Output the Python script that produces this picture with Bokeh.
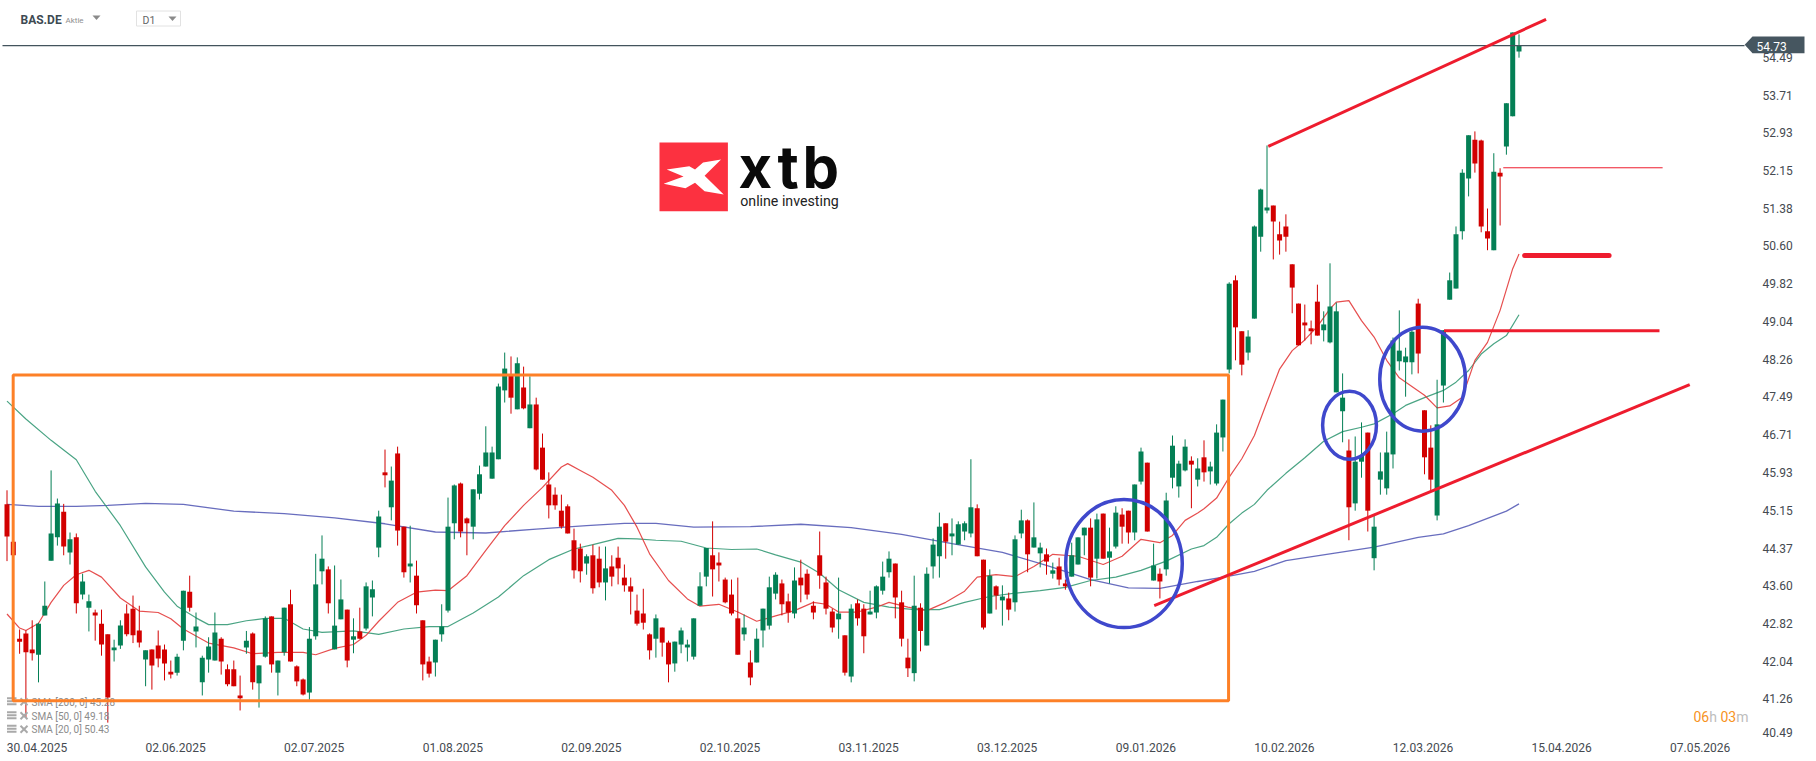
from bokeh.plotting import figure
from bokeh.models import Range1d, FixedTicker
from bokeh.core.properties import value
from bokeh.embed import file_html
from bokeh.resources import INLINE

W, H = 1816, 761
BAR0, BAR = 6.5, 6.3              # pixel of bar 0, pixels per bar
REF_P, REF_Y, PPU = 54.49, 56.7, 48.5   # price scale calibration

def sx(px): return (px - BAR0) / BAR
def sy(py): return REF_P - (py - REF_Y) / PPU

highs = [
45.56,44.50,42.69,42.67,42.88,42.83,43.68,45.97,45.39,45.28,
44.69,44.67,43.84,43.41,43.10,43.10,42.59,42.48,42.88,43.21,
43.39,43.18,42.26,42.28,42.67,42.38,42.05,42.19,43.49,43.80,
43.04,42.15,42.53,43.04,42.53,41.97,42.05,41.74,42.66,42.63,
41.95,42.96,42.96,42.05,43.14,43.51,41.95,41.68,42.74,44.25,
44.63,43.99,44.01,43.72,43.10,42.92,43.14,43.66,43.70,45.14,
46.40,46.05,46.46,44.81,44.83,44.11,42.88,42.13,42.48,43.21,
45.41,45.68,45.72,45.00,45.58,46.07,46.88,46.46,47.76,48.40,
48.32,48.30,48.11,47.91,47.47,46.73,45.93,45.62,45.47,45.27,
44.77,44.46,44.24,44.44,44.40,44.40,44.22,44.40,44.03,43.76,
43.41,43.53,42.61,43.00,42.73,42.46,42.44,42.73,42.48,42.92,
43.87,44.37,44.92,44.28,43.76,43.72,43.76,43.00,42.26,42.71,
43.12,43.78,43.87,43.72,43.43,43.97,44.13,43.93,43.27,44.71,
43.78,43.12,43.76,42.57,43.21,43.31,43.21,43.49,43.60,44.09,
44.30,44.05,43.49,42.50,43.80,43.23,43.97,44.57,45.10,44.88,
44.98,44.92,44.92,46.20,45.27,44.13,43.93,43.60,43.60,43.45,
44.63,45.16,44.96,45.31,44.48,44.36,44.07,44.17,43.72,44.48,
44.59,44.79,44.98,45.08,45.08,44.79,45.23,45.19,45.14,45.68,
46.44,46.13,44.46,43.95,45.51,46.69,46.17,46.61,46.26,46.22,
46.59,46.15,46.92,47.43,49.85,49.99,48.84,48.86,51.02,51.78,
52.67,51.43,51.10,51.25,50.22,49.41,49.39,49.06,49.80,49.25,
50.24,49.43,47.97,46.61,46.67,46.96,46.75,45.04,46.34,46.77,
48.71,49.27,48.50,48.90,49.51,47.21,46.90,47.84,48.86,50.05,
51.00,52.18,52.88,52.96,52.79,51.37,52.51,52.20,53.54,55.00,54.96]
opens = [
45.27,44.50,42.50,42.61,42.28,42.17,42.98,44.11,44.59,45.12,
44.28,44.59,43.41,43.14,43.04,42.81,42.59,42.26,42.36,43.02,
43.12,42.67,42.07,42.28,42.36,42.28,41.82,41.80,42.46,43.47,
42.65,41.60,42.07,42.05,42.50,41.87,41.87,41.33,42.32,42.61,
41.58,42.13,42.96,41.80,42.22,43.21,41.93,41.66,41.39,42.55,
43.89,43.93,42.28,42.90,43.10,42.48,42.65,42.71,43.35,44.38,
45.93,45.21,46.32,44.81,43.99,43.80,42.88,42.03,42.01,42.59,
43.08,44.88,45.70,44.98,44.81,45.49,46.05,45.80,46.20,47.62,
47.95,47.23,47.68,46.84,47.33,46.44,45.68,45.47,45.14,45.23,
44.53,44.36,44.05,44.22,44.15,43.66,43.99,44.17,43.76,43.58,
43.08,43.02,42.59,42.50,42.73,42.42,41.99,42.38,42.32,42.13,
43.18,43.78,44.22,44.07,43.72,43.41,42.92,42.59,42.01,42.01,
42.67,42.77,43.43,43.64,43.27,43.02,43.76,43.84,43.18,44.22,
43.66,43.06,42.90,42.57,41.72,43.23,43.12,43.00,43.04,43.49,
43.87,44.05,43.25,42.11,41.79,43.14,42.36,43.99,44.20,44.88,
44.61,44.44,44.71,44.67,45.19,44.13,43.02,43.58,43.29,43.33,
43.25,44.67,44.94,44.38,44.26,44.24,43.84,43.99,43.64,43.78,
44.03,44.63,44.79,44.15,45.08,44.17,44.40,45.06,45.14,44.69,
45.74,46.13,43.70,43.84,43.93,45.82,45.64,45.97,46.17,45.78,
46.24,45.95,45.70,46.65,48.05,49.89,48.84,48.40,49.10,50.79,
51.33,51.43,50.84,51.00,50.22,49.41,49.02,48.90,49.45,48.86,
48.61,47.58,47.19,46.38,45.29,46.15,46.75,44.16,45.78,45.60,
46.30,48.22,48.20,48.20,49.41,47.21,46.44,45.04,47.72,49.49,
49.72,50.90,51.99,52.79,52.77,50.90,50.51,52.11,52.65,53.27,54.61]
closes = [
44.61,44.22,42.44,42.22,42.20,42.81,43.18,44.67,45.29,44.40,
44.55,43.23,43.68,43.27,42.98,42.38,41.29,42.32,42.77,42.59,
42.57,42.42,42.26,41.95,42.09,41.99,41.76,42.13,43.49,43.14,
42.75,42.11,42.34,42.63,42.03,41.56,41.52,41.27,42.46,41.60,
41.95,42.92,41.97,42.05,43.14,42.03,41.62,41.35,42.50,43.62,
44.15,43.23,42.77,43.31,42.05,42.55,42.50,43.58,43.52,45.02,
45.87,45.76,44.73,43.87,44.05,43.19,41.97,41.78,42.48,42.75,
44.81,45.66,44.71,44.88,45.58,45.89,46.34,46.34,47.70,48.07,
47.47,48.18,47.25,47.33,45.99,45.78,45.25,45.25,44.81,44.67,
43.91,43.89,44.20,43.54,43.66,43.95,43.78,43.95,43.60,43.47,
42.81,42.83,42.26,42.92,42.42,41.97,42.44,42.67,42.38,42.92,
43.58,44.37,43.93,44.01,43.25,43.02,42.17,42.73,41.70,42.50,
43.12,43.56,43.82,43.21,43.04,43.70,43.60,43.41,43.04,43.80,
43.12,42.73,43.02,41.80,43.12,42.92,42.55,43.06,43.58,43.78,
44.15,43.35,42.50,41.89,43.18,42.66,43.84,44.44,44.81,44.50,
44.67,44.86,44.88,45.21,44.20,42.73,43.80,43.39,43.37,43.10,
44.55,44.94,44.24,44.59,44.38,44.09,43.91,43.72,43.58,44.22,
44.59,44.79,43.76,44.96,44.15,44.30,45.10,44.81,44.69,45.68,
46.36,44.71,44.01,43.68,45.35,46.48,46.11,46.46,46.09,46.01,
45.93,46.05,46.75,47.43,49.82,48.92,48.15,48.73,51.00,51.76,
51.39,51.10,50.71,50.79,49.74,48.55,48.96,48.84,48.75,48.98,
49.35,49.25,47.47,45.21,46.15,46.28,45.14,44.81,45.95,46.34,
48.65,48.44,48.32,48.83,48.38,46.24,45.78,46.92,48.86,49.89,
50.84,52.11,52.88,52.30,51.00,50.75,52.13,52.03,53.54,55.00,54.73]
lows = [
44.10,44.22,42.19,40.88,42.05,41.60,42.98,44.11,44.42,44.22,
44.03,43.02,43.31,42.65,42.46,42.15,40.77,42.03,42.29,42.55,
42.41,42.32,41.52,41.45,41.91,41.64,41.68,41.74,42.26,43.06,
42.32,41.33,41.80,42.05,41.76,41.52,41.52,41.02,42.19,41.45,
41.08,42.11,41.80,41.33,42.15,42.03,41.52,41.33,41.24,42.48,
43.62,43.02,42.28,42.90,41.91,42.20,42.50,42.67,42.96,44.18,
45.62,44.94,44.42,43.76,43.66,43.02,41.64,41.70,41.72,42.44,
43.04,44.55,44.59,44.22,44.55,45.37,46.05,45.80,46.20,47.37,
47.14,47.23,47.23,46.84,45.97,45.78,44.98,45.16,44.77,44.67,
43.74,43.66,43.82,43.43,43.56,43.29,43.58,43.62,43.47,43.00,
42.77,42.69,42.07,42.11,42.13,41.60,41.82,42.20,42.03,42.07,
43.18,43.58,43.37,43.68,43.23,42.98,42.17,42.46,41.54,42.01,
42.32,42.69,43.31,42.98,42.83,42.92,43.25,43.31,42.90,43.53,
43.00,42.63,42.50,41.74,41.60,42.77,42.20,43.00,42.92,43.41,
43.76,42.92,42.34,41.71,41.62,42.24,42.36,43.74,43.76,44.15,
44.22,44.44,44.53,44.59,44.20,42.69,43.02,43.10,42.77,42.88,
43.06,44.57,43.87,44.38,43.97,43.82,43.74,43.60,43.51,43.78,
44.03,44.22,43.58,43.74,44.15,43.64,44.36,44.46,44.46,44.53,
45.68,44.71,43.70,43.33,43.80,45.60,45.41,45.95,45.19,45.64,
45.74,45.68,45.66,46.36,47.97,48.24,47.93,48.24,49.10,50.48,
51.27,50.32,50.42,50.48,49.21,48.55,48.65,48.57,48.75,48.63,
48.59,47.58,46.55,44.53,45.14,45.82,44.71,43.91,45.47,45.47,
46.01,48.03,47.49,47.95,47.97,45.89,45.56,44.94,47.37,49.49,
49.72,50.73,51.62,52.11,50.88,50.51,50.51,51.02,52.48,53.27,54.48]
assert len(highs) == len(opens) == len(closes) == len(lows) == 241

sma200_idx = [0,5,11,16,22,28,36,44,52,60,68,76,84,92,98,103,109,118,126,134,142,150,158,165,172,178,183,189,194,198,203,210,217,224,228,232,238,240]
sma200_val = [45.27,45.23,45.23,45.25,45.29,45.27,45.13,45.08,44.99,44.87,44.70,44.68,44.76,44.83,44.88,44.88,44.80,44.81,44.86,44.79,44.65,44.46,44.28,44.01,43.72,43.55,43.54,43.68,43.79,43.89,44.11,44.25,44.39,44.59,44.66,44.83,45.13,45.28]

sma50_idx = [0,3,7,11,14,18,22,25,27,30,32,35,38,41,44,47,50,55,59,63,67,70,74,78,82,86,90,93,97,100,103,107,111,115,119,122,126,129,132,136,140,144,148,152,156,160,164,168,172,176,180,184,188,190,192,194,196,198,200,203,206,209,212,215,217,220,222,225,228,230,232,234,236,238,240]
sma50_val = [47.40,47.03,46.59,46.19,45.54,44.83,43.98,43.46,43.17,42.93,42.79,42.79,42.87,42.92,42.92,42.70,42.63,42.66,42.59,42.70,42.75,42.75,43.03,43.36,43.80,44.13,44.35,44.44,44.57,44.56,44.53,44.51,44.37,44.34,44.35,44.23,44.08,43.85,43.51,43.25,43.15,43.10,43.10,43.25,43.37,43.44,43.49,43.56,43.70,43.77,43.91,44.10,44.35,44.42,44.59,44.87,45.09,45.27,45.56,45.91,46.23,46.57,46.77,46.86,46.93,47.14,47.31,47.47,47.62,47.79,48.03,48.37,48.58,48.75,49.18]

sma20_idx = [0,2,3,5,7,9,11,13,15,18,21,24,26,28,32,36,39,43,47,49,52,55,57,59,62,65,68,70,73,76,79,82,85,88,89,91,93,96,98,100,102,105,108,110,113,116,119,122,125,128,130,132,135,138,140,143,146,149,152,154,157,160,163,166,170,174,177,180,183,185,187,189,190,192,194,196,198,200,202,204,206,208,210,211,213,215,217,219,221,223,225,227,229,231,233,235,237,239,240]
sma20_val = [43.01,42.72,42.67,42.82,43.25,43.60,43.82,43.91,43.77,43.34,43.07,43.04,42.91,42.70,42.41,42.31,42.19,42.22,42.22,42.17,42.30,42.38,42.57,42.86,43.25,43.46,43.50,43.49,43.80,44.32,44.83,45.25,45.62,46.04,46.11,45.97,45.83,45.56,45.25,44.80,44.25,43.70,43.32,43.17,43.21,43.05,42.86,42.97,43.08,43.25,43.21,43.05,43.05,43.15,43.25,43.15,43.08,43.25,43.48,43.77,43.82,43.78,43.99,44.24,44.20,44.03,44.20,44.55,44.48,44.63,44.94,45.09,45.18,45.40,45.83,46.21,46.69,47.38,48.06,48.44,48.66,48.94,49.30,49.44,49.47,49.06,48.72,48.24,47.88,47.70,47.52,47.26,47.30,47.48,48.24,48.61,49.27,50.13,50.43]

price_ticks = [54.49,53.71,52.93,52.15,51.38,50.60,49.82,49.04,48.26,47.49,46.71,45.93,45.15,44.37,43.60,42.82,42.04,41.26]
bottom_price_label = "40.49"      # clamped by the platform just above the date row
date_ticks = [0,22,44,66,88,110,132,154,176,198,220,242,264]
date_labels = ["30.04.2025","02.06.2025","02.07.2025","01.08.2025","02.09.2025","02.10.2025","03.11.2025","03.12.2025","09.01.2026","10.02.2026","12.03.2026","15.04.2026","07.05.2026"]
last_price = 54.73
legend_rows = ["SMA [200, 0] 45.28", "SMA [50, 0] 49.18", "SMA [20, 0] 50.43"]

# analyst drawings, in (bar, price)
box_bars, box_prices = (0.98, 193.9), (47.94, 41.22)
top_trend = ((200.2, 244.3), (52.65, 55.27))
support_trend = ((182.1, 267.1), (43.18, 47.74))
resist_level = ((228.1, 262.3), 48.85)
thick_level = ((240.9, 254.3), 50.40)
thin_level = ((237.5, 262.8), 52.21)
circles = [(177.3, 44.05, 18.5, 2.64), (213.1, 46.90, 8.54, 1.40), (224.7, 47.85, 13.6, 2.14)]

GREEN, RED = "#047f55", "#d20000"
p = figure(width=W, height=H, output_backend="svg", toolbar_location=None,
           x_range=Range1d(sx(0), sx(W)), y_range=Range1d(sy(H), sy(0)),
           x_axis_location="below", y_axis_location="right",
           min_border=0, min_border_left=0, min_border_right=0, min_border_top=0, min_border_bottom=0,
           outline_line_color=None, background_fill_color="white")
p.grid.visible = False

FONT = value("Roboto")
def label(x, y, txt, size, color, align="left", style="normal", baseline="middle", font=FONT):
    p.text([x], [y], text=[txt], text_font=font, text_font_size=size, text_color=color,
           text_align=align, text_baseline=baseline, text_font_style=style)

# axes placed inside the canvas
p.yaxis.fixed_location = sx(1750)
yt = price_ticks + [sy(731.7)]
p.yaxis.ticker = FixedTicker(ticks=yt)
overrides = {t: f"{t:.2f}" for t in price_ticks}
overrides[yt[-1]] = bottom_price_label
p.yaxis.major_label_overrides = overrides
p.yaxis.axis_line_color = None
p.yaxis.major_tick_line_color = None
p.yaxis.minor_tick_line_color = None
p.yaxis.major_label_standoff = 6
p.yaxis.major_label_text_font = "Roboto"
p.yaxis.major_label_text_font_size = "12px"
p.yaxis.major_label_text_color = "#454a50"

half_label = 30 / BAR
p.xaxis.fixed_location = sy(735)
xt = [t + half_label for t in date_ticks]
p.xaxis.ticker = FixedTicker(ticks=xt)
p.xaxis.major_label_overrides = dict(zip(xt, date_labels))
p.xaxis.axis_line_color = None
p.xaxis.major_tick_line_color = None
p.xaxis.minor_tick_line_color = None
p.xaxis.major_label_standoff = 1
p.xaxis.major_label_text_font = "Roboto"
p.xaxis.major_label_text_font_size = "12px"
p.xaxis.major_label_text_color = "#454a50"

# moving averages beneath candles
p.line(sma200_idx, sma200_val, line_color="#4d53b3", line_width=1.3, line_alpha=0.85)
p.line(sma50_idx, sma50_val, line_color="#2a946f", line_width=1.2, line_alpha=0.85)
p.line(sma20_idx, sma20_val, line_color="#e33b3b", line_width=1.2, line_alpha=0.9)

# candles
bars = list(range(len(opens)))
colors = [GREEN if c >= o else RED for o, c in zip(opens, closes)]
p.segment(bars, highs, bars, lows, line_color=colors, line_width=1)
p.vbar(bars, width=5 / BAR, top=[max(o, c) for o, c in zip(opens, closes)],
       bottom=[min(o, c) for o, c in zip(opens, closes)], fill_color=colors, line_color=None)

# legend
GRAY = "#8c8c8c"
for txt, py in zip(legend_rows, (701.7, 715.7, 729.3)):
    for dy in (-4, -1, 2):
        p.line([sx(6.5), sx(16)], [sy(py + dy)] * 2, line_color="#a9a9a9", line_width=2)
    p.segment([sx(20), sx(20)], [sy(py - 4), sy(py + 3)], [sx(27), sx(27)], [sy(py + 3), sy(py - 4)],
              line_color="#a9a9a9", line_width=2)
    label(sx(31), sy(py), txt, "10px", GRAY)

# price line
p.line([sx(2), sx(1744)], [last_price, last_price], line_color="#43535d", line_width=1.2)

# drawings
p.quad(left=[box_bars[0]], right=[box_bars[1]], top=[box_prices[0]], bottom=[box_prices[1]],
       fill_alpha=0, line_color="#fd8027", line_width=3)
for xs, ys in (top_trend, support_trend):
    p.line(list(xs), list(ys), line_color="#ee1c2e", line_width=3)
p.line(list(resist_level[0]), [resist_level[1]] * 2, line_color="#ee1c2e", line_width=3)
p.line(list(thick_level[0]), [thick_level[1]] * 2, line_color="#ee1c2e", line_width=5, line_cap="round")
p.line(list(thin_level[0]), [thin_level[1]] * 2, line_color="#ee1c2e", line_width=1)
cx, cy, cw, ch = zip(*circles)
p.ellipse(list(cx), list(cy), width=list(cw), height=list(ch), fill_alpha=0, line_color="#3f48cc", line_width=3.5)

# price tag
p.patch([sx(v) for v in (1744.2, 1752, 1804, 1804, 1752)],
        [sy(v) for v in (44.3, 36, 36, 52.7, 52.7)], fill_color="#465660", line_color=None)
label(sx(1756), sy(45.5), f"{last_price:.2f}", "12px", "white")

# countdown
label(sx(1693), sy(716), "06", "14px", "#f7931e")
label(sx(1708.7), sy(716), "h", "14px", "#bdbdbd")
label(sx(1720), sy(716), "03", "14px", "#f7931e")
label(sx(1735.7), sy(716), "m", "14px", "#bdbdbd")

# header
label(sx(20), sy(19.5), "BAS.DE", "12px", "#3d4a52", style="bold")
label(sx(65), sy(20), "Aktie", "8px", "#8f8f8f")
p.patch([sx(v) for v in (92, 100, 96)], [sy(v) for v in (15, 15, 19.5)], fill_color="#8a8a8a", line_color=None)
p.quad(left=[sx(136)], right=[sx(180)], top=[sy(10.5)], bottom=[sy(25.5)], fill_color="white",
       line_color="#e2e2e2", line_width=1)
label(sx(142), sy(19.5), "D1", "10.5px", "#666666")
p.patch([sx(v) for v in (168, 176, 172)], [sy(v) for v in (16, 16, 20.5)], fill_color="#8a8a8a", line_color=None)

# logo
p.quad(left=[sx(659)], right=[sx(727.4)], top=[sy(142)], bottom=[sy(210.7)], fill_color="#fc3140", line_color=None)
wing = [(173,207),(232,197),(247,207),(268,186),(315,177),(272,226),(322,282),(272,272),(247,247),(222,263),(165,250),(217,228)]
p.patch([sx(600 + a / 2.613) for a, b in wing], [sy(100 + b / 3) for a, b in wing], fill_color="white", line_color=None)
for ch_, px in (("x", 738), ("t", 777), ("b", 802)):
    label(sx(px), sy(166), ch_, "58px", "#0a0a0a", style="bold", font=value("Inter"))
label(sx(739.7), sy(200), "online investing", "14.2px", "#222222")

open("out.html", "w").write(file_html(p, INLINE))
